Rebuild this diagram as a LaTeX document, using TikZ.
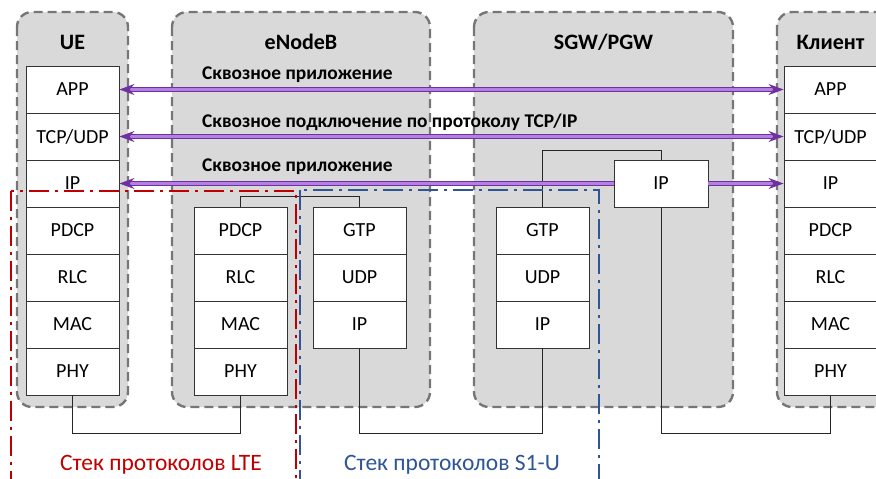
\documentclass[tikz,border=0pt]{standalone}
\usepackage{fontspec}
\setmainfont{Carlito}
\usetikzlibrary{arrows.meta}
\definecolor{hostgray}{RGB}{217,217,217}
\definecolor{hostedge}{RGB}{118,118,118}
\definecolor{flowedge}{RGB}{112,48,160}
\definecolor{flowfill}{RGB}{178,128,226}
\definecolor{ltered}{RGB}{192,0,0}
\definecolor{sblue}{RGB}{47,85,151}

\begin{document}
\begin{tikzpicture}[x=1pt, y=-1pt,
  every node/.style={font=\fontsize{20}{22}\selectfont},
  >={Stealth[length=15pt,width=11pt]},
  host/.style={draw=hostedge, fill=hostgray, line width=2.4pt,
    dash pattern=on 9pt off 5pt, rounded corners=15pt},
  title/.style={font=\fontsize{22}{24}\selectfont\bfseries},
  layer/.style={draw=black!80, fill=white, line width=0.9pt,
    minimum width=93pt, minimum height=47pt, inner sep=0pt},
  link/.style={draw=black!85, line width=0.9pt},
  flow/.style={draw=flowedge, double=flowfill, double distance=2.8pt, line width=1pt},
  flowlabel/.style={anchor=west, inner sep=0pt, font=\fontsize{19.4}{21}\selectfont\bfseries},
  lte/.style={draw=ltered, line width=2pt, dash pattern=on 20pt off 6pt on 3pt off 6pt},
  sone/.style={draw=sblue, line width=2pt, dash pattern=on 20pt off 6pt on 3pt off 6pt},
  zonelabel/.style={font=\fontsize{23.5}{25}\selectfont}]

  \useasboundingbox (0,0) rectangle (876,479);
  \clip (0,0) rectangle (876,479);

  % hosts
  \draw[host] (17,12) rectangle (128,407);
  \draw[host] (172,12) rectangle (430,407);
  \draw[host] (474,12) rectangle (733,407);
  \draw[host] (777,12) rectangle (900,407);

  \node[title] (tue) at (72.5,42) {UE};
  \node[title] (tenb) at (301,42) {eNodeB};
  \node[title] (tgw) at (603.5,42) {SGW/PGW};
  \node[title] (tcl) at (830.5,42) {Клиент};

  % protocol stacks
  \foreach \n [count=\i from 0] in {APP,TCP/UDP,IP,PDCP,RLC,MAC,PHY} {
    \node[layer] (ue\i) at (72.5,{89.5+47*\i}) {\n};
    \node[layer] (cl\i) at (830.5,{89.5+47*\i}) {\n};
  }
  \foreach \n [count=\i from 0] in {PDCP,RLC,MAC,PHY}
    \node[layer] (enbl\i) at (240.5,{230.5+47*\i}) {\n};
  \foreach \n [count=\i from 0] in {GTP,UDP,IP} {
    \node[layer] (enbr\i) at (359.5,{230.5+47*\i}) {\n};
    \node[layer] (gw\i) at (542.5,{230.5+47*\i}) {\n};
  }
  \node[layer, minimum width=94pt] (gwip) at (661,183.5) {IP};

  % wiring
  \coordinate (bus) at (0,433);
  \coordinate (enbtop) at (0,196);
  \coordinate (gwtop) at (0,150);
  \draw[link] (enbl0.north) -- (enbl0.north |- enbtop) -| (enbr0.north);
  \draw[link] (gw0.north) -- (gw0.north |- gwtop) -| (gwip.north);
  \draw[link] (ue6.south) -- (ue6.south |- bus) -| (enbl3.south);
  \draw[link] (enbr2.south) -- (enbr2.south |- bus) -| (gw2.south);
  \draw[link] (gwip.south) -- (gwip.south |- bus) -| (cl6.south);

  % end-to-end flows
  \draw[flow, <->] (ue0.east) -- (cl0.west);
  \draw[flow, <->] (ue1.east) -- (cl1.west);
  \draw[flow, <-] (ue2.east) -- (gwip.west);
  \draw[flow, ->] (gwip.east) -- (cl2.west);

  \node[flowlabel] (app) at (202,75) {Сквозное приложение};
  \node[flowlabel] (tcp) at (202,122) {Сквозное подключение по протоколу TCP/IP};
  \node[flowlabel] (ipl) at (202,167) {Сквозное приложение};

  % stack zones
  \draw[lte] (11,191) rectangle (296,520);
  \draw[sone] (300,190) rectangle (599,520);
  \node[zonelabel, text=ltered] (ltetag) at (161,465) {Стек протоколов LTE};
  \node[zonelabel, text=sblue] (s1tag) at (452,465) {Стек протоколов S1-U};
\end{tikzpicture}
\end{document}
